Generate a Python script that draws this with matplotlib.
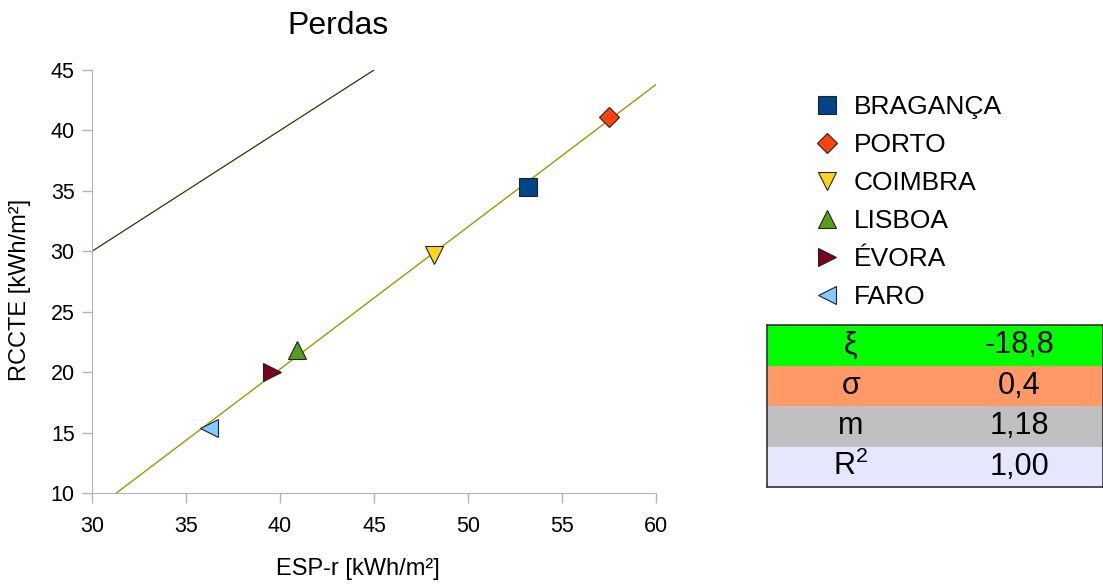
import numpy as np
import matplotlib
matplotlib.use('Agg')
import matplotlib.pyplot as plt

plt.rcParams['font.family'] = ['Liberation Sans', 'DejaVu Sans']

### Data ###
cities = ['BRAGANÇA', 'PORTO', 'COIMBRA', 'LISBOA', 'ÉVORA', 'FARO']
esp_r = [53.2, 57.5, 48.2, 40.9, 39.6, 36.2]
rccte = [35.3, 41.1, 29.7, 21.8, 20.0, 15.4]
markers = ['s', 'D', 'v', '^', '>', '<']
colors = ['#004586', '#ff420e', '#ffd320', '#579d1c', '#7e0021', '#83caff']
msizes = [13, 10, 13, 13, 13, 13]

# regression line and 1:1 line
fit_x = [31.3, 60.0]
fit_y = [10.0, 43.8]
ident_x = [30, 45]
ident_y = [30, 45]

tab_symbols = ['ξ', 'σ', 'm', 'R$^\\mathregular{2}$']
tab_values = ['-18,8', '0,4', '1,18', '1,00']
tab_colors = ['#00ff00', '#ff9966', '#c0c0c0', '#e6e6ff']

W, H = 1103, 586
fig = plt.figure(figsize=(W / 100, H / 100), dpi=100)
ax = fig.add_axes([92 / W, 1 - 493 / H, (656 - 92) / W, (493 - 70) / H])

ax.plot(ident_x, ident_y, color='#333300', lw=0.9, zorder=2)
ax.plot(fit_x, fit_y, color='#999900', lw=1.0, zorder=2)
handles = []
for c, x, y, mk, col, ms in zip(cities, esp_r, rccte, markers, colors, msizes):
    h, = ax.plot([x], [y], linestyle='none', marker=mk, markersize=ms,
                 markerfacecolor=col, markeredgecolor='#222222', markeredgewidth=0.8,
                 label=c, zorder=3)
    handles.append(h)

ax.set_xlim(30, 60)
ax.set_ylim(10, 45)
ax.set_xticks(np.arange(30, 61, 5))
ax.set_yticks(np.arange(10, 46, 5))
for s in ['top', 'right']:
    ax.spines[s].set_visible(False)
for s in ['left', 'bottom']:
    ax.spines[s].set_color('#b3b3b3')
ax.tick_params(colors='#b3b3b3', labelcolor='black', labelsize=15.5, length=7.5, width=1)
ax.tick_params(axis='x', pad=9)
ax.tick_params(axis='y', pad=5)

fig.text(338 / W, 1 - 26 / H, 'Perdas', fontsize=23, ha='center', va='center')
fig.text(358 / W, 1 - 569 / H, 'ESP-r [kWh/m²]', fontsize=17, ha='center', va='center')
fig.text(20 / W, 1 - 290 / H, 'RCCTE [kWh/m²]', fontsize=17, ha='center', va='center',
         rotation=90)

fig.legend(handles=handles, loc='upper left', bbox_to_anchor=(801 / W, 1 - 82 / H),
           frameon=False, fontsize=19, markerscale=1.0, labelspacing=0.53,
           handlelength=1.0, handletextpad=0.5, borderpad=0)

# stats table
tax = fig.add_axes([767 / W, 1 - 487 / H, (W - 767) / W, (487 - 325) / H])
tax.set_xlim(0, 1)
tax.set_ylim(0, 4)
for i, (sym, val, col) in enumerate(zip(tab_symbols, tab_values, tab_colors)):
    yb = 3 - i
    tax.add_patch(plt.Rectangle((0, yb), 1, 1, facecolor=col, edgecolor='none'))
    tax.text(0.25, yb + 0.5, sym, ha='center', va='center', fontsize=22)
    tax.text(0.75, yb + 0.5, val, ha='center', va='center', fontsize=22)
tax.set_xticks([])
tax.set_yticks([])
for s in tax.spines.values():
    s.set_color('#333333')
    s.set_linewidth(1.2)

fig.savefig('out.png', dpi=100)
